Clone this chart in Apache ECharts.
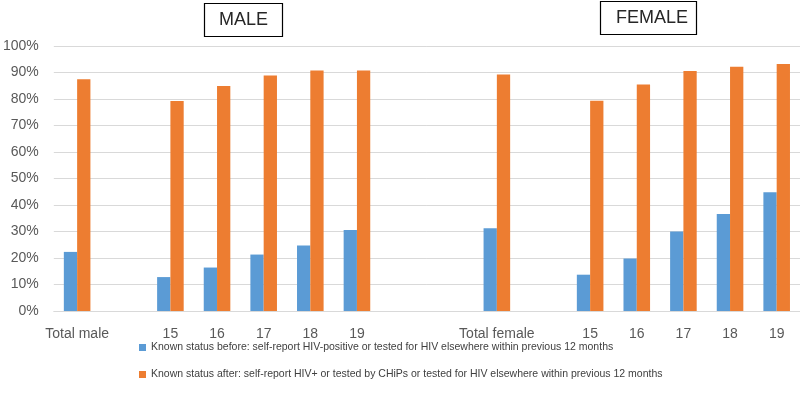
<!DOCTYPE html>
<html>
<head>
<meta charset="utf-8">
<script src="https://cdn.jsdelivr.net/npm/echarts@6/dist/echarts.min.js"></script>
<style>html,body{margin:0;padding:0;background:#fff}#c{width:800px;height:415px}</style>
</head>
<body>
<div id="c"></div>
<script>
var categories = ["Total male", "", "15", "16", "17", "18", "19", "", "", "Total female", "", "15", "16", "17", "18", "19"];
var beforeValues = [22.3, null, 12.8, 16.4, 21.3, 24.7, 30.6, null, null, 31.2, null, 13.7, 19.8, 30.0, 36.6, 44.8];
var afterValues = [87.5, null, 79.2, 84.9, 88.9, 90.8, 90.8, null, null, 89.2, null, 79.3, 85.5, 90.6, 92.2, 93.2];
var seriesNames = [
  "Known status before: self-report HIV-positive or tested for HIV elsewhere within previous 12 months",
  "Known status after: self-report HIV+ or tested by CHiPs or tested for HIV elsewhere within previous 12 months"
];
var panelTitles = ["MALE", "FEMALE"];

var chart = echarts.init(document.getElementById('c'));
var font = "'Liberation Sans', Arial, sans-serif";
chart.setOption({
  animation: false,
  title: [
    { text: panelTitles[0], left: 204, top: 3, borderColor: '#000', borderWidth: 1.2, padding: [8, 15, 8, 15],
      textStyle: { fontFamily: font, fontSize: 18, fontWeight: 'normal', color: '#262626' } },
    { text: panelTitles[1], left: 600, top: 1, borderColor: '#000', borderWidth: 1.2, padding: [8, 9, 8, 16],
      textStyle: { fontFamily: font, fontSize: 18, fontWeight: 'normal', color: '#262626' } }
  ],
  legend: {
    orient: 'vertical', left: 134, top: 337, itemWidth: 7, itemHeight: 7, itemGap: 16, itemTextGap: 4,
    icon: 'rect',
    textStyle: { fontFamily: font, fontSize: 10.5, color: '#404040' },
    data: seriesNames
  },
  grid: { left: 53, right: 0, top: 46, bottom: 104 },
  xAxis: {
    type: 'category', data: categories,
    axisTick: { show: false },
    axisLine: { lineStyle: { color: '#d9d9d9' } },
    axisLabel: { interval: 0, fontFamily: font, fontSize: 14, color: '#595959', margin: 16 }
  },
  yAxis: {
    type: 'value', min: 0, max: 100, interval: 10,
    axisLabel: { formatter: '{value}%', fontFamily: font, fontSize: 14, color: '#595959', margin: 15 },
    splitLine: { lineStyle: { color: '#d9d9d9' } },
    axisLine: { show: false }, axisTick: { show: false }
  },
  series: [
    { name: seriesNames[0], type: 'bar', data: beforeValues, barGap: '0%', barCategoryGap: '43%', itemStyle: { color: '#5b9bd5' } },
    { name: seriesNames[1], type: 'bar', data: afterValues, barGap: '0%', barCategoryGap: '43%', itemStyle: { color: '#ed7d31' } }
  ]
});
</script>
</body>
</html>
